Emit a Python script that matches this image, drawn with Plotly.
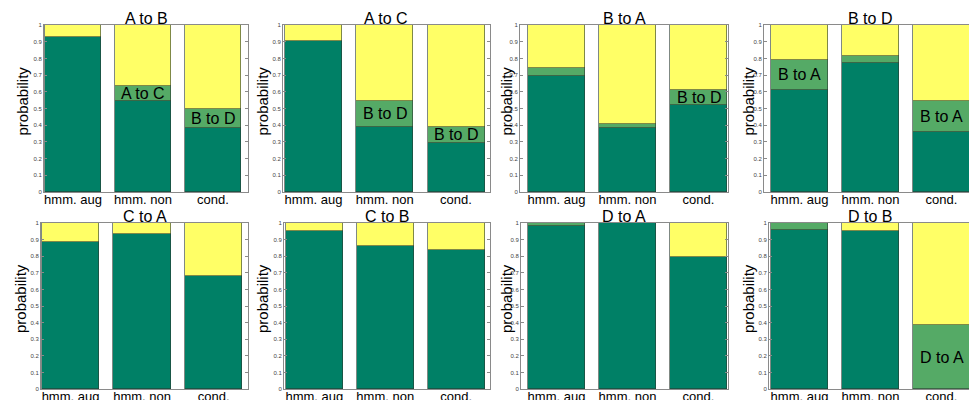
import plotly.graph_objects as go

categories = ["hmm. aug", "hmm. non", "cond."]
titles = ["A to B", "A to C", "B to A", "B to D", "C to A", "C to B", "D to A", "D to B"]

dark_vals = [
    [0.928, 0.544, 0.386],
    [0.907, 0.388, 0.295],
    [0.695, 0.384, 0.520],
    [0.612, 0.773, 0.361],
    [0.888, 0.934, 0.680],
    [0.952, 0.860, 0.840],
    [0.980, 1.000, 0.796],
    [0.956, 0.952, 0.000],
]
mid_vals = [
    [0.000, 0.088, 0.110],
    [0.000, 0.159, 0.093],
    [0.048, 0.022, 0.092],
    [0.181, 0.040, 0.185],
    [0.000, 0.000, 0.000],
    [0.000, 0.000, 0.000],
    [0.020, 0.000, 0.000],
    [0.044, 0.000, 0.384],
]
yellow_vals = [
    [0.072, 0.368, 0.504],
    [0.093, 0.453, 0.612],
    [0.257, 0.594, 0.388],
    [0.207, 0.187, 0.454],
    [0.112, 0.066, 0.320],
    [0.048, 0.140, 0.160],
    [0.000, 0.000, 0.204],
    [0.000, 0.048, 0.616],
]
mid_labels = [
    [None, "A to C", "B to D"],
    [None, "B to D", "B to D"],
    [None, None, "B to D"],
    ["B to A", None, "B to A"],
    [None, None, None],
    [None, None, None],
    [None, None, None],
    [None, None, "D to A"],
]
ytick_vals = [0, 0.1, 0.2, 0.3, 0.4, 0.5, 0.6, 0.7, 0.8, 0.9, 1.0]
ytick_text = ["0", "0.1", "0.2", "0.3", "0.4", "0.5", "0.6", "0.7", "0.8", "0.9", "1"]

W, H = 969, 400
# layout (pixels)
x_px = [(44, 248), (283, 490), (520, 728), (764, 969),
        (41, 248), (284, 490), (521, 728), (769, 969)]
x_ranges = [(0.586, 3.5), (0.572, 3.477), (0.486, 3.415), (0.5, 3.387),
            (0.587, 3.48), (0.572, 3.477), (0.5, 3.415), (0.57, 3.387)]
y_px = [(25, 192)] * 4 + [(223, 389)] * 4
ylabel_x = [22, 262, 506, 748, 20, 262, 506, 748]
title_x = [146, 386, 624, 870, 145, 387, 624, 870]

c_dark = "#008066"
c_mid = "#55AA66"
c_yel = "#FFFF66"
edge = "#2a3a30"
axis_gray = "#8a8a8a"
font_family = "Liberation Sans, Arial, sans-serif"

fig = go.Figure()
annotations = []
layout_axes = {}
xs = [1, 2, 3]
for i in range(8):
    n = i + 1
    xa = "x" if n == 1 else f"x{n}"
    ya = "y" if n == 1 else f"y{n}"
    for vals, col in ((dark_vals[i], c_dark), (mid_vals[i], c_mid), (yellow_vals[i], c_yel)):
        fig.add_trace(go.Bar(
            x=xs, y=vals, width=0.8, xaxis=xa, yaxis=ya,
            marker=dict(color=col, line=dict(color=edge, width=0.6)),
            showlegend=False, hoverinfo="skip",
        ))
    x0, x1 = x_px[i]
    yt, yb = y_px[i]
    dom_x = [x0 / W, x1 / W]
    dom_y = [1 - yb / H, 1 - yt / H]
    last_col = i in (3, 7)
    layout_axes["xaxis" if n == 1 else f"xaxis{n}"] = dict(
        domain=dom_x, range=list(x_ranges[i]), anchor=ya,
        tickvals=xs, ticktext=categories, ticks="", ticklabelstandoff=-5,
        showline=True, linecolor=axis_gray, linewidth=1, mirror=True,
        showgrid=False, zeroline=False, automargin=False,
        tickfont=dict(size=13, color="black", family=font_family),
    )
    layout_axes["yaxis" if n == 1 else f"yaxis{n}"] = dict(
        domain=dom_y, range=[0, 1], anchor=xa,
        tickvals=ytick_vals, ticktext=ytick_text,
        ticks="inside", ticklen=3, tickcolor=axis_gray,
        showline=True, linecolor=axis_gray, linewidth=1,
        mirror=False if last_col else "ticks",
        showgrid=False, zeroline=False, automargin=False,
        tickfont=dict(size=6, color="#444444", family=font_family),
    )
    # title
    annotations.append(dict(
        text=titles[i], xref="paper", yref="paper",
        x=title_x[i] / W, y=dom_y[1], xanchor="center", yanchor="bottom", yshift=-4,
        showarrow=False, font=dict(size=16, color="black", family=font_family),
    ))
    # y label
    annotations.append(dict(
        text="probability", xref="paper", yref="paper",
        x=ylabel_x[i] / W, y=1 - ((yt + yb) / 2 - 7) / H,
        xanchor="center", yanchor="middle", textangle=-90,
        showarrow=False, font=dict(size=15, color="black", family=font_family),
    ))
    # segment labels
    for j in range(3):
        lab = mid_labels[i][j]
        if lab:
            annotations.append(dict(
                text=lab, xref=xa, yref=ya, x=xs[j],
                y=dark_vals[i][j] + mid_vals[i][j] / 2,
                xanchor="center", yanchor="middle", showarrow=False,
                font=dict(size=16, color="black", family=font_family),
            ))

fig.update_layout(
    width=W, height=H, margin=dict(l=0, r=0, t=0, b=0, autoexpand=False),
    paper_bgcolor="white", plot_bgcolor="white",
    barmode="stack", bargap=0, annotations=annotations,
    **layout_axes,
)
fig.write_html(
    "out.html",
    config={"displayModeBar": False},
    post_script="document.body.style.margin='0';document.body.style.overflow='hidden';",
)
